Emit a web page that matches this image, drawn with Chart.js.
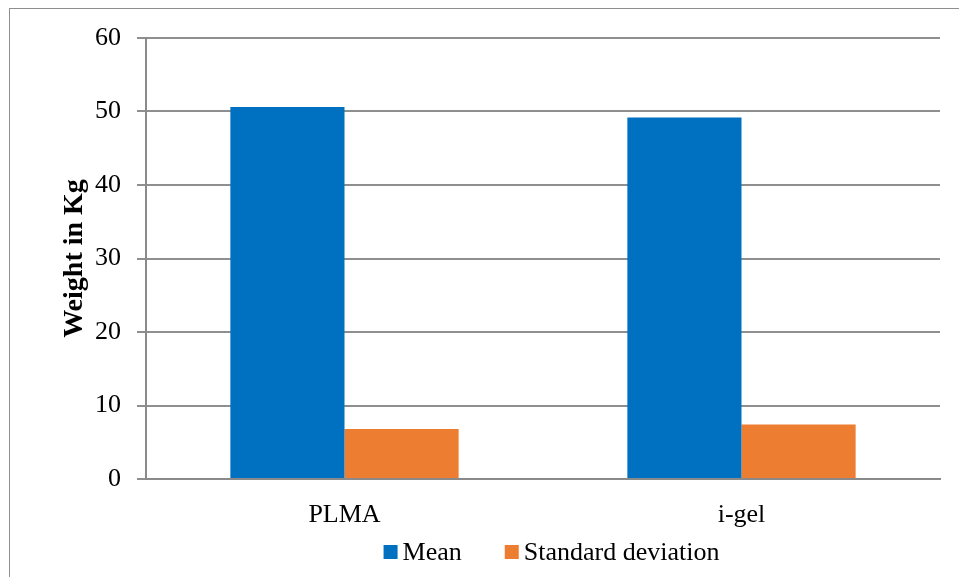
<!DOCTYPE html>
<html>
<head>
<meta charset="utf-8">
<script src="https://cdn.jsdelivr.net/npm/chart.js@4/dist/chart.umd.min.js"></script>
<style>
  html, body { margin: 0; padding: 0; background: #fff; }
  #wrap { position: relative; width: 959px; height: 577px; overflow: hidden; }
  #frame { position: absolute; left: 9px; top: 8px; width: 1000px; height: 600px;
           border-left: 1px solid #8e8e8e; border-top: 1px solid #8e8e8e; box-sizing: border-box; }
  canvas { position: absolute; left: 0; top: 0; }
</style>
</head>
<body>
<div id="wrap">
  <div id="frame"></div>
  <canvas id="chart" width="959" height="577"></canvas>
</div>
<script>
const categories = ['PLMA', 'i-gel'];
const meanValues = [50.6, 49.2];
const sdValues = [6.8, 7.4];
const seriesNames = ['Mean', 'Standard deviation'];
const seriesColors = ['#0070C0', '#ED7D31'];

const FONT = '"Liberation Serif", "Times New Roman", serif';

// Legend drawn beneath the axis: small square swatch followed closely by the label
const bottomLegend = {
  id: 'bottomLegend',
  afterDraw(chart) {
    const ctx = chart.ctx;
    ctx.save();
    ctx.font = '26px ' + FONT;
    ctx.textBaseline = 'middle';
    ctx.textAlign = 'left';
    const box = 14, gapText = 5, gapItem = 43;
    const items = chart.data.datasets.map(ds => ({
      label: ds.label, color: ds.backgroundColor, w: ctx.measureText(ds.label).width
    }));
    let total = 0;
    items.forEach((it, i) => { total += box + gapText + it.w + (i ? gapItem : 0); });
    let x = 551.5 - total / 2;
    const y = 553;
    items.forEach((it, i) => {
      if (i) x += gapItem;
      ctx.fillStyle = it.color;
      ctx.fillRect(x, y - 8, box, box);
      x += box + gapText;
      ctx.fillStyle = '#000';
      ctx.fillText(it.label, x, y);
      x += it.w;
    });
    ctx.restore();
  }
};

new Chart(document.getElementById('chart'), {
  type: 'bar',
  data: {
    labels: categories,
    datasets: [
      { label: seriesNames[0], data: meanValues, backgroundColor: seriesColors[0] },
      { label: seriesNames[1], data: sdValues, backgroundColor: seriesColors[1] }
    ]
  },
  options: {
    responsive: false,
    animation: false,
    devicePixelRatio: 1,
    layout: { padding: { top: 38, right: 19, bottom: 0, left: 0 } },
    datasets: { bar: { categoryPercentage: 0.575, barPercentage: 1.0 } },
    plugins: { legend: { display: false }, tooltip: { enabled: false } },
    scales: {
      x: {
        grid: { display: false, drawTicks: false },
        border: { display: true, color: '#8a8a8a', width: 2 },
        ticks: { color: '#000', font: { family: FONT, size: 26 }, padding: 21 },
        afterFit(s) { s.height = 98; }
      },
      y: {
        min: 0, max: 60,
        ticks: { stepSize: 10, color: '#000', font: { family: FONT, size: 26 }, padding: 16 },
        grid: { color: '#8f8f8f', lineWidth: 2, tickLength: 9, drawTicks: true },
        border: { display: true, color: '#8a8a8a', width: 2 },
        title: {
          display: true, text: 'Weight in Kg', color: '#000',
          font: { family: FONT, size: 28, weight: 'bold' },
          padding: { top: 58, bottom: 0 }
        },
        afterFit(s) { s.width = 146; }
      }
    }
  },
  plugins: [bottomLegend]
});
</script>
</body>
</html>
